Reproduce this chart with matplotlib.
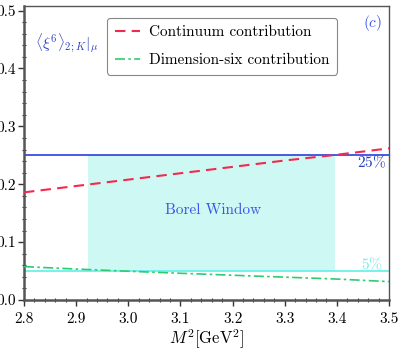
import matplotlib
matplotlib.use("Agg")
import matplotlib.pyplot as plt
import numpy as np
from matplotlib.ticker import MultipleLocator, FormatStrFormatter

plt.rcParams['font.family'] = 'serif'
plt.rcParams['font.serif'] = ['cmr10']
plt.rcParams['mathtext.fontset'] = 'cm'
plt.rcParams['axes.formatter.use_mathtext'] = True

# data
m2 = [2.8, 2.9, 3.0, 3.1, 3.2, 3.3, 3.4, 3.5]
continuum = [0.186, 0.197, 0.208, 0.219, 0.230, 0.241, 0.251, 0.262]
dim_six = [0.0577, 0.0535, 0.0497, 0.0462, 0.0428, 0.0395, 0.0362, 0.0318]
pct25 = 0.25
pct5 = 0.05
window = (2.923, 3.396)

fig = plt.figure(figsize=(3.99, 3.52), dpi=100)
ax = fig.add_axes([0.0602, 0.1477, 0.9148, 0.8353])

ax.fill_between([window[0], window[1]], pct5, pct25, color='#cdf8f3', lw=0, zorder=1)
ax.axhline(pct25, color='#2a3ee0', lw=1.2, zorder=2)
ax.axhline(pct5, color='#5ff0e6', lw=1.2, zorder=2)
ax.plot(m2, continuum, color='#f5294f', lw=1.5, ls=(0, (5, 3)), label='Continuum contribution', zorder=3)
ax.plot(m2, dim_six, color='#2ecc71', lw=1.2, ls=(0, (6, 2, 1.5, 2)), label='Dimension-six contribution', zorder=3)

ax.text(3.1625, 0.155, 'Borel Window', color='#3a55e8', fontsize=11, ha='center', va='center')
ax.text(3.466, 0.238, r'$25\%$', color='#2a3ec0', fontsize=11, ha='center', va='center')
ax.text(3.466, 0.062, r'$5\%$', color='#6ff0e6', fontsize=11, ha='center', va='center')
ax.text(2.821, 0.444, r'$\langle\xi^6\rangle_{2{;}K}|_\mu$', color='#2a3ec0', fontsize=11, ha='left', va='center')
ax.text(3.468, 0.478, r'$(c)$', color='#3a55e8', fontsize=11, ha='center', va='center')

ax.set_xlim(2.8, 3.5)
ax.set_ylim(0, 0.508)
ax.xaxis.set_major_locator(MultipleLocator(0.1))
ax.xaxis.set_minor_locator(MultipleLocator(0.02))
ax.yaxis.set_major_locator(MultipleLocator(0.1))
ax.yaxis.set_minor_locator(MultipleLocator(0.02))
ax.xaxis.set_major_formatter(FormatStrFormatter('%.1f'))
ax.yaxis.set_major_formatter(FormatStrFormatter('%.1f'))
ax.tick_params(which='major', direction='out', length=4, width=1, labelsize=11, color='#333333')
ax.tick_params(which='minor', direction='inout', length=3, width=0.8, color='#333333')
ax.tick_params(axis='x', pad=5)
ax.tick_params(axis='y', pad=2)
for s in ['left', 'bottom']:
    ax.spines[s].set_linewidth(1.8)
    ax.spines[s].set_color('#555555')
for s in ['right', 'top']:
    ax.spines[s].set_linewidth(1.0)
    ax.spines[s].set_color('#555555')

ax.set_xlabel(r'$M^2[\mathrm{GeV}^2]$', fontsize=12, labelpad=1)

leg = ax.legend(loc='upper left', bbox_to_anchor=(0.227, 0.959), borderaxespad=0, fontsize=11,
                frameon=True, fancybox=True, edgecolor='#888888', handlelength=1.65,
                handletextpad=0.6, borderpad=0.5, labelspacing=0.9, framealpha=1)
leg.get_frame().set_linewidth(0.8)

fig.savefig('out.png', dpi=100)
